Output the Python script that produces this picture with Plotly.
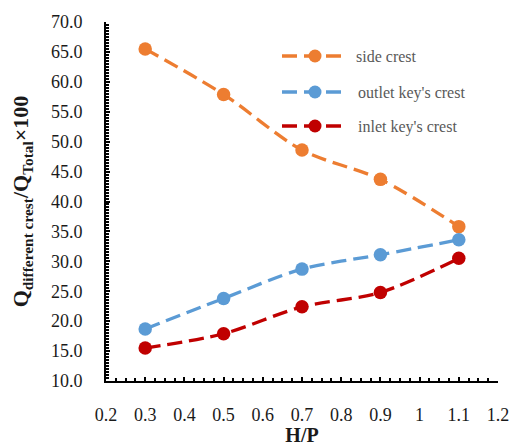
import plotly.graph_objects as go

# Discharge share of each crest type versus head ratio
hp = [0.3, 0.5, 0.7, 0.9, 1.1]
side_crest = [65.5, 57.9, 48.6, 43.7, 35.8]
outlet_key_crest = [18.7, 23.8, 28.7, 31.1, 33.6]
inlet_key_crest = [15.5, 17.9, 22.4, 24.8, 30.5]

series_names = ["side crest", "outlet key's crest", "inlet key's crest"]
series_values = [side_crest, outlet_key_crest, inlet_key_crest]
series_colors = ["#ED7D31", "#5B9BD5", "#C00000"]

FONT = "Liberation Serif, Times New Roman, serif"
DASH = "15px,7px"

fig = go.Figure()
for name, vals, color in zip(series_names, series_values, series_colors):
    fig.add_trace(go.Scatter(
        x=hp, y=vals, name=name, mode="lines+markers",
        line=dict(color=color, width=3.3, dash=DASH, shape="spline", smoothing=0.9),
        marker=dict(color=color, size=13.5, line=dict(width=0)),
        showlegend=False,
    ))

# Hand-built legend inside the plot area (longer sample lines than the default legend)
L, R, T, B = 106, 12, 22, 65
W, H = 510, 446
pw, ph = W - L - R, H - T - B


def px_x(p):
    return (p - L) / pw


def px_y(p):
    return (H - B - p) / ph


legend_rows = [56, 92, 126]
text_x = [354, 356, 356]
for (name, color), ry, tx in zip(zip(series_names, series_colors), legend_rows, text_x):
    fig.add_shape(type="line", xref="paper", yref="paper",
                  x0=px_x(282), x1=px_x(346), y0=px_y(ry), y1=px_y(ry),
                  line=dict(color=color, width=3.3, dash=DASH))
    fig.add_shape(type="circle", xref="paper", yref="paper",
                  xsizemode="pixel", ysizemode="pixel",
                  xanchor=px_x(315), yanchor=px_y(ry),
                  x0=-6.5, x1=6.5, y0=-6.5, y1=6.5,
                  fillcolor=color, line=dict(width=0))
    fig.add_annotation(text=name, xref="paper", yref="paper",
                       x=px_x(tx), y=px_y(ry + 1), xanchor="left", yanchor="middle",
                       showarrow=False, font=dict(family=FONT, size=16, color="#595959"))

axis_common = dict(
    showline=True, linecolor="black", linewidth=2, mirror=False,
    showgrid=False, zeroline=False, automargin=False,
    ticks="inside", ticklen=4, tickwidth=1.5, tickcolor="black",
    tickfont=dict(family=FONT, size=18, color="#1a1a1a"),
)

fig.update_xaxes(
    range=[0.2, 1.2], dtick=0.1, tick0=0.2,
    minor=dict(dtick=0.025, ticks="inside", ticklen=3, tickwidth=1.5, tickcolor="black"),
    ticklabelstandoff=16,
    title=dict(text="<b>H/P</b>", font=dict(family=FONT, size=20, color="#1a1a1a"), standoff=8),
    **axis_common,
)
fig.update_yaxes(
    range=[10, 70], dtick=5, tick0=10, tickformat=".1f",
    minor=dict(dtick=0.5, ticks="inside", ticklen=3, tickwidth=1.5, tickcolor="black"),
    ticklabelstandoff=18,
    title=dict(text="<b>Q<sub>different crest</sub>/Q<sub>Total</sub>×100</b>",
               font=dict(family=FONT, size=22, color="#1a1a1a"), standoff=16),
    **axis_common,
)

fig.update_layout(
    width=W, height=H,
    margin=dict(l=L, r=R, t=T, b=B),
    paper_bgcolor="white", plot_bgcolor="white",
    font=dict(family=FONT, color="#1a1a1a"),
    showlegend=False,
)

fig.write_html("out.html")
